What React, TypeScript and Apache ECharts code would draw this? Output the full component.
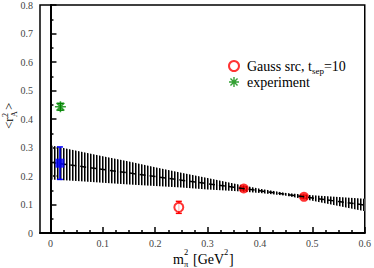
import React, { useEffect, useRef } from "react";
import * as echarts from "echarts";

// ---- data ----
const xMin = -0.02;
const xMax = 0.6;
const xMajorTicks = [0, 0.1, 0.2, 0.3, 0.4, 0.5, 0.6];
const xMinorTicks = [
  0.025, 0.05, 0.075, 0.125, 0.15, 0.175, 0.225, 0.25, 0.275, 0.325, 0.35, 0.375,
  0.425, 0.45, 0.475, 0.525, 0.55, 0.575,
];

const gaussX = [0.245, 0.369, 0.484];
const gaussY = [0.09, 0.156, 0.127];
const gaussErr = [0.021, 0.006, 0.005];

const physX = [0.018];
const physY = [0.245];
const physErr = [0.057];

const expX = [0.019];
const expY = [0.443];
const expErr = [0.012];

const fitX = [0, 0.05, 0.1, 0.15, 0.2, 0.25, 0.3, 0.35, 0.4, 0.45, 0.5, 0.55, 0.6];
const fitCenter = [0.248, 0.2355, 0.223, 0.2105, 0.198, 0.1855, 0.173, 0.1605, 0.148, 0.1355, 0.123, 0.1105, 0.098];
const fitLow = [0.188, 0.1825, 0.1765, 0.1705, 0.165, 0.1595, 0.153, 0.1475, 0.1405, 0.1305, 0.1135, 0.0945, 0.076];
const fitHigh = [0.308, 0.2885, 0.2695, 0.2505, 0.231, 0.2115, 0.193, 0.1735, 0.1555, 0.1405, 0.1325, 0.1265, 0.12];

const SERIF = "Liberation Serif, Times New Roman, serif";
const STAR =
  "path://M-1.4,-10L1.4,-10L1.4,10L-1.4,10Z M-10,-1.4L10,-1.4L10,1.4L-10,1.4Z " +
  "M6.08,-8.06L8.06,-6.08L-6.08,8.06L-8.06,6.08Z M-8.06,-6.08L-6.08,-8.06L8.06,6.08L6.08,8.06Z";

function errorBars(color: string, cap: number, lw: number) {
  return (params: any, api: any) => {
    const x = api.value(0);
    const y = api.value(1);
    const e = api.value(2);
    const t = api.coord([x, y + e]);
    const b = api.coord([x, y - e]);
    const st = { stroke: color, lineWidth: lw };
    return {
      type: "group",
      children: [
        { type: "line", shape: { x1: t[0], y1: t[1], x2: b[0], y2: b[1] }, style: st },
        { type: "line", shape: { x1: t[0] - cap, y1: t[1], x2: t[0] + cap, y2: t[1] }, style: st },
        { type: "line", shape: { x1: b[0] - cap, y1: b[1], x2: b[0] + cap, y2: b[1] }, style: st },
      ],
    };
  };
}

export default function App() {
  const ref = useRef<HTMLDivElement>(null);
  useEffect(() => {
    if (!ref.current) return;
    const chart = echarts.init(ref.current, undefined, { renderer: "svg" });

    const cv = document.createElement("canvas");
    cv.width = 3;
    cv.height = 3;
    const ctx = cv.getContext("2d")!;
    ctx.fillStyle = "#000";
    ctx.fillRect(0, 0, 1, 3);
    ctx.fillStyle = "#777";
    ctx.fillRect(1, 0, 1, 3);
    const hatch = { image: cv, repeat: "repeat" };

    const tickLabel = { fontFamily: SERIF, fontSize: 10, color: "#444" };
    const txt = (text: string, x: number, y: number, size: number) => ({
      type: "text",
      x,
      y,
      style: { text, fontFamily: SERIF, fontSize: size, fill: "#000", verticalAlign: "bottom" },
    });

    const option: any = {
      animation: false,
      textStyle: { fontFamily: SERIF },
      grid: { left: 40, right: 8, top: 4, bottom: 35, show: true, borderColor: "#000", borderWidth: 1.5 },
      legend: {
        orient: "vertical",
        left: 223,
        top: 54,
        itemWidth: 16,
        itemHeight: 10,
        itemGap: 0,
        symbolKeepAspect: true,
        data: [{ name: "gauss" }, { name: "experiment" }],
        formatter: (name: string) =>
          name === "gauss" ? "{a|Gauss src, t}{s|sep}{a|=10}" : "{a|experiment}",
        textStyle: {
          fontFamily: SERIF,
          rich: {
            a: { fontFamily: SERIF, fontSize: 14, color: "#000", verticalAlign: "middle", lineHeight: 14 },
            s: { fontFamily: SERIF, fontSize: 9, color: "#000", verticalAlign: "bottom", lineHeight: 18 },
          },
        },
      },
      xAxis: [
        {
          type: "value",
          min: xMin,
          max: xMax,
          axisLine: { show: true, lineStyle: { color: "#000", width: 2 } },
          axisTick: { show: true, inside: true, length: 6, customValues: xMajorTicks, lineStyle: { color: "#000", width: 1.5 } },
          axisLabel: { show: true, customValues: xMajorTicks, margin: 5, ...tickLabel, formatter: (v: number) => String(Math.round(v * 10) / 10) },
          splitLine: { show: false },
        },
        {
          type: "value",
          min: xMin,
          max: xMax,
          position: "bottom",
          axisLine: { show: false },
          axisTick: { show: true, inside: true, length: 3, customValues: xMinorTicks, lineStyle: { color: "#000", width: 1.5 } },
          axisLabel: { show: false },
          splitLine: { show: false },
        },
      ],
      yAxis: {
        type: "value",
        min: 0,
        max: 0.8,
        interval: 0.1,
        axisLine: { show: true, lineStyle: { color: "#000", width: 2 } },
        axisTick: { show: true, inside: true, length: 6, lineStyle: { color: "#000", width: 1.5 } },
        minorTick: { show: true, splitNumber: 2, length: 3, lineStyle: { color: "#000", width: 1.5 } },
        axisLabel: { margin: 7, ...tickLabel, formatter: (v: number) => String(Math.round(v * 10) / 10) },
        splitLine: { show: false },
      },
      series: [
        {
          name: "gauss",
          type: "scatter",
          z: 2,
          symbol: "emptyCircle",
          symbolSize: 9,
          itemStyle: { color: "#ff0000", borderColor: "#ff0000", borderWidth: 2 },
          data: gaussX.slice(0, 1).map((x, i) => [x, gaussY[i]]),
        },
        {
          name: "gauss",
          type: "scatter",
          z: 4,
          symbol: "circle",
          symbolSize: 10,
          itemStyle: { color: "#ff0000", borderWidth: 0 },
          data: gaussX.slice(1).map((x, i) => [x, gaussY[i + 1]]),
        },
        {
          type: "custom",
          z: 2,
          renderItem: errorBars("#ff0000", 3, 1.5),
          data: gaussX.map((x, i) => [x, gaussY[i], gaussErr[i]]),
        },
        {
          type: "custom",
          z: 3,
          silent: true,
          renderItem: (params: any, api: any) => {
            const pts: number[][] = [];
            fitX.forEach((x, i) => pts.push(api.coord([x, fitHigh[i]])));
            for (let i = fitX.length - 1; i >= 0; i--) pts.push(api.coord([fitX[i], fitLow[i]]));
            return { type: "polygon", shape: { points: pts }, style: { fill: hatch, stroke: null } };
          },
          data: [[0, fitCenter[0]]],
        },
        {
          type: "line",
          z: 5,
          symbol: "none",
          lineStyle: { color: "#000", width: 1.5, type: [6, 4] },
          data: fitX.map((x, i) => [x, fitCenter[i]]),
        },
        {
          type: "custom",
          z: 5,
          renderItem: errorBars("#0000ff", 3, 1.5),
          data: physX.map((x, i) => [x, physY[i], physErr[i]]),
        },
        {
          type: "scatter",
          z: 6,
          symbol: "rect",
          symbolSize: 9,
          itemStyle: { color: "#0000ff" },
          data: physX.map((x, i) => [x, physY[i]]),
        },
        {
          type: "custom",
          z: 5,
          renderItem: errorBars("#008000", 3, 1.5),
          data: expX.map((x, i) => [x, expY[i], expErr[i]]),
        },
        {
          name: "experiment",
          type: "scatter",
          z: 6,
          symbol: STAR,
          symbolSize: 11,
          itemStyle: { color: "#008800" },
          data: expX.map((x, i) => [x, expY[i]]),
        },
      ],
      graphic: [
        {
          type: "group",
          x: 15,
          y: 129,
          rotation: Math.PI / 2,
          children: [
            txt("<r", 0, 0, 13),
            txt("2", 12, -6, 8),
            txt("A", 12, 3, 8),
            txt(">", 19, 0, 13),
          ],
        },
        txt("m", 173, 266, 14),
        txt("2", 184, 256, 8.5),
        txt("π", 184, 268, 8.5),
        txt("[GeV", 193, 266, 14),
        txt("2", 224, 256, 8.5),
        txt("]", 229, 266, 14),
      ],
    };
    chart.setOption(option);
    return () => chart.dispose();
  }, []);
  return <div ref={ref} style={{ width: 374, height: 268, position: "absolute", left: 0, top: 0 }} />;
}
